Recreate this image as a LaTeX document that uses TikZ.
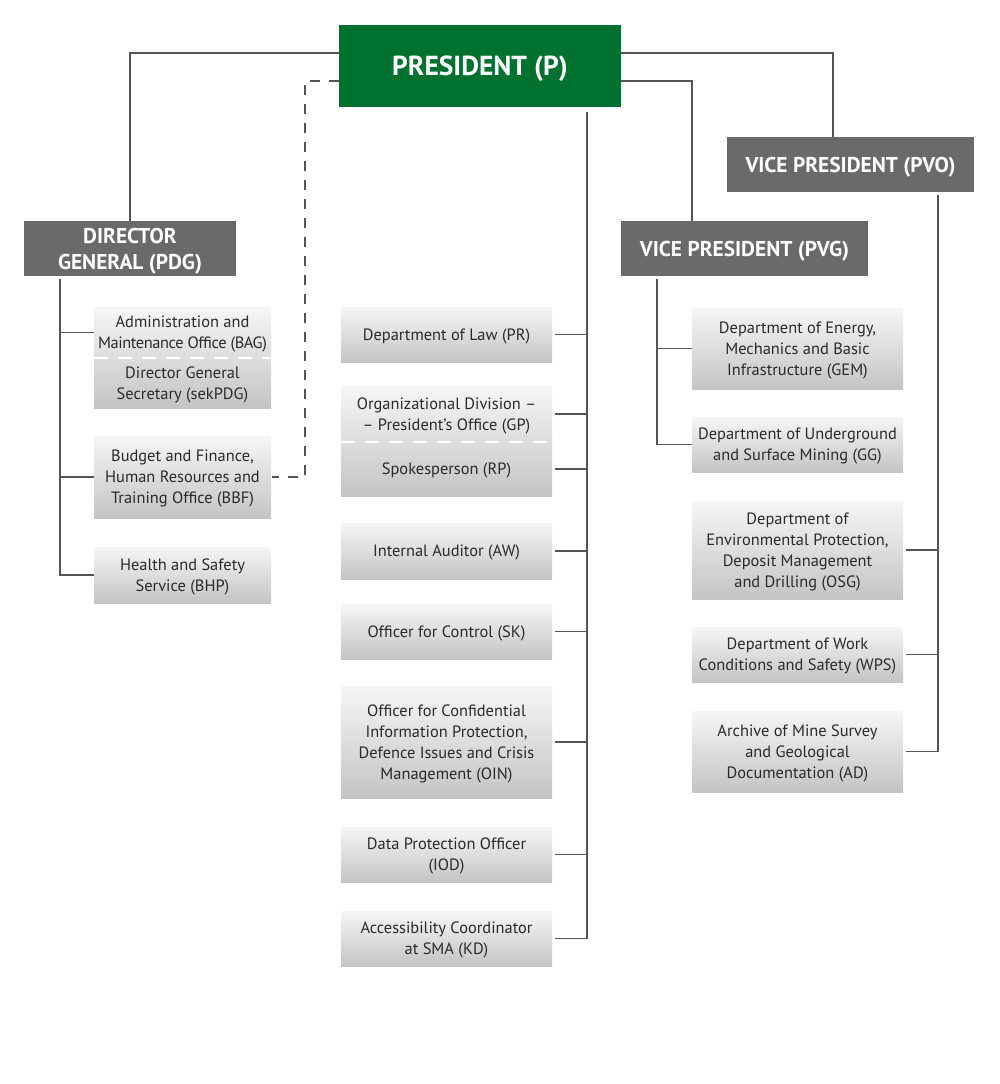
\documentclass[tikz,border=0pt]{standalone}
\usepackage{fontspec}
\setmainfont{PT Sans}
\definecolor{pgreen}{HTML}{00712F}
\definecolor{hgray}{HTML}{6A6A6A}
\definecolor{btop}{HTML}{F6F6F6}
\definecolor{bbot}{HTML}{C4C4C4}
\definecolor{lgray}{HTML}{555555}
\definecolor{tgray}{HTML}{2A2A2A}
\begin{document}
\begin{tikzpicture}[x=1pt,y=-1pt,
  every node/.style={inner sep=0pt,outer sep=0pt},
  unit/.style={rectangle,top color=btop,bottom color=bbot},
  lbl/.style={align=center,text=tgray,font=\fontsize{16.4}{21}\selectfont,yshift=-1.5pt},
  head/.style={rectangle,fill=hgray},
  hlbl/.style={align=center,text=white,font=\bfseries\fontsize{21.4}{26}\selectfont,yshift=-3pt},
  conn/.style={draw=lgray,line width=1.4pt},
  dconn/.style={draw=lgray,line width=1.4pt,dash pattern=on 10pt off 9pt},
  divider/.style={draw=white,line width=1.3pt,dash pattern=on 14pt off 10pt}]
\useasboundingbox (0,0) rectangle (1000,1084);
% top
\node[rectangle,fill=pgreen,minimum width=282,minimum height=82,
  label={[align=center,text=white,font=\bfseries\fontsize{27.5}{30}\selectfont,yshift=-3pt]center:{PRESIDENT (P)}}] (p) at (480,66) {};
\node[head,minimum width=212,minimum height=55,label={[hlbl]center:{DIRECTOR\\GENERAL (PDG)}}] (pdg) at (130,248.5) {};
\node[head,minimum width=247,minimum height=55,label={[hlbl]center:{VICE PRESIDENT (PVG)}}] (pvg) at (744.5,248.5) {};
\node[head,minimum width=247,minimum height=55,label={[hlbl]center:{VICE PRESIDENT (PVO)}}] (pvo) at (850.5,164.5) {};
% left column
\node[unit,minimum width=177,minimum height=101] (bagbox) at (182.5,357.5) {};
\node[minimum width=177,minimum height=51,label={[lbl]center:{Administration and\\{\addfontfeatures{LetterSpace=-2.5}Maintenance Office (BAG)}}}] (bag) at (182.5,332.5) {};
\node[minimum width=177,minimum height=50,label={[lbl]center:{Director General\\Secretary (sekPDG)}}] (sek) at (182.5,383) {};
\draw[divider] (bagbox.west |- 0,358) -- (bagbox.east |- 0,358);
\node[unit,minimum width=177,minimum height=82,label={[lbl]center:{Budget and Finance,\\Human Resources and\\Training Office (BBF)}}] (bbf) at (182.5,477) {};
\node[unit,minimum width=177,minimum height=56,label={[lbl]center:{Health and Safety\\Service (BHP)}}] (bhp) at (182.5,575) {};
% center column
\node[unit,minimum width=211,minimum height=55,label={[lbl]center:{Department of Law (PR)}}] (pr) at (446.5,334.5) {};
\node[unit,minimum width=211,minimum height=110] (gpbox) at (446.5,441) {};
\node[minimum width=211,minimum height=56,label={[lbl]center:{Organizational Division --\\-- President’s Office (GP)}}] (gp) at (446.5,414) {};
\node[minimum width=211,minimum height=54,label={[lbl]center:{Spokesperson (RP)}}] (rp) at (446.5,469) {};
\draw[divider] (gpbox.west |- 0,442) -- (gpbox.east |- 0,442);
\node[unit,minimum width=211,minimum height=56,label={[lbl]center:{Internal Auditor (AW)}}] (aw) at (446.5,551) {};
\node[unit,minimum width=211,minimum height=55,label={[lbl]center:{Officer for Control (SK)}}] (sk) at (446.5,631.5) {};
\node[unit,minimum width=211,minimum height=112,label={[lbl]center:{Officer for Confidential\\Information Protection,\\Defence Issues and Crisis\\Management (OIN)}}] (oin) at (446.5,742) {};
\node[unit,minimum width=211,minimum height=55,label={[lbl]center:{Data Protection Officer\\(IOD)}}] (iod) at (446.5,854.5) {};
\node[unit,minimum width=211,minimum height=55,label={[lbl]center:{Accessibility Coordinator\\at SMA (KD)}}] (kd) at (446.5,938.5) {};
% right column
\node[unit,minimum width=211,minimum height=81,label={[lbl]center:{Department of Energy,\\Mechanics and Basic\\Infrastructure (GEM)}}] (gem) at (797.5,348.5) {};
\node[unit,minimum width=211,minimum height=55,label={[lbl]center:{Department of Underground\\and Surface Mining (GG)}}] (gg) at (797.5,444.5) {};
\node[unit,minimum width=211,minimum height=98,label={[lbl]center:{Department of\\Environmental Protection,\\Deposit Management\\and Drilling (OSG)}}] (osg) at (797.5,550) {};
\node[unit,minimum width=211,minimum height=55,label={[lbl]center:{Department of Work\\Conditions and Safety (WPS)}}] (wps) at (797.5,654.5) {};
\node[unit,minimum width=211,minimum height=81,label={[lbl]center:{Archive of Mine Survey\\and Geological\\Documentation (AD)}}] (ad) at (797.5,751.5) {};
% connectors from president
\draw[conn] ([yshift=-28pt]p.north west) -| (pdg.north);
\draw[conn] ([yshift=-28pt]p.north east) -| ([xshift=-17.5pt]pvo.north);
\draw[conn] ([yshift=-56pt]p.north east) -| ([xshift=-52.5pt]pvg.north);
\coordinate (dc) at (305,81);
\draw[dconn] ([yshift=-56pt]p.north west) -- (dc) |- ([xshift=1pt]bbf.east);
% president trunk
\coordinate (pt) at ([xshift=107pt,yshift=-5pt]p.south);
\draw[conn] (pt) -- (pt |- kd.east) -- ([xshift=3pt]kd.east);
\foreach \n in {pr,gp,rp,aw,sk,oin,iod} \draw[conn] (pt |- \n.east) -- ([xshift=3pt]\n.east);
% PDG trunk
\coordinate (dt) at ([xshift=-70pt,yshift=-3pt]pdg.south);
\draw[conn] (dt) -- (dt |- bhp.west) -- (bhp.west);
\foreach \n in {bag,bbf} \draw[conn] (dt |- \n.west) -- (\n.west);
% PVG trunk
\coordinate (gt) at ([xshift=-87.5pt,yshift=-3pt]pvg.south);
\draw[conn] (gt) -- (gt |- gg.west) -- (gg.west);
\draw[conn] (gt |- gem.west) -- (gem.west);
% PVO trunk
\coordinate (ot) at ([xshift=87.5pt,yshift=-3pt]pvo.south);
\draw[conn] (ot) -- (ot |- ad.east) -- ([xshift=3pt]ad.east);
\foreach \n in {osg,wps} \draw[conn] (ot |- \n.east) -- ([xshift=3pt]\n.east);
\end{tikzpicture}
\end{document}
